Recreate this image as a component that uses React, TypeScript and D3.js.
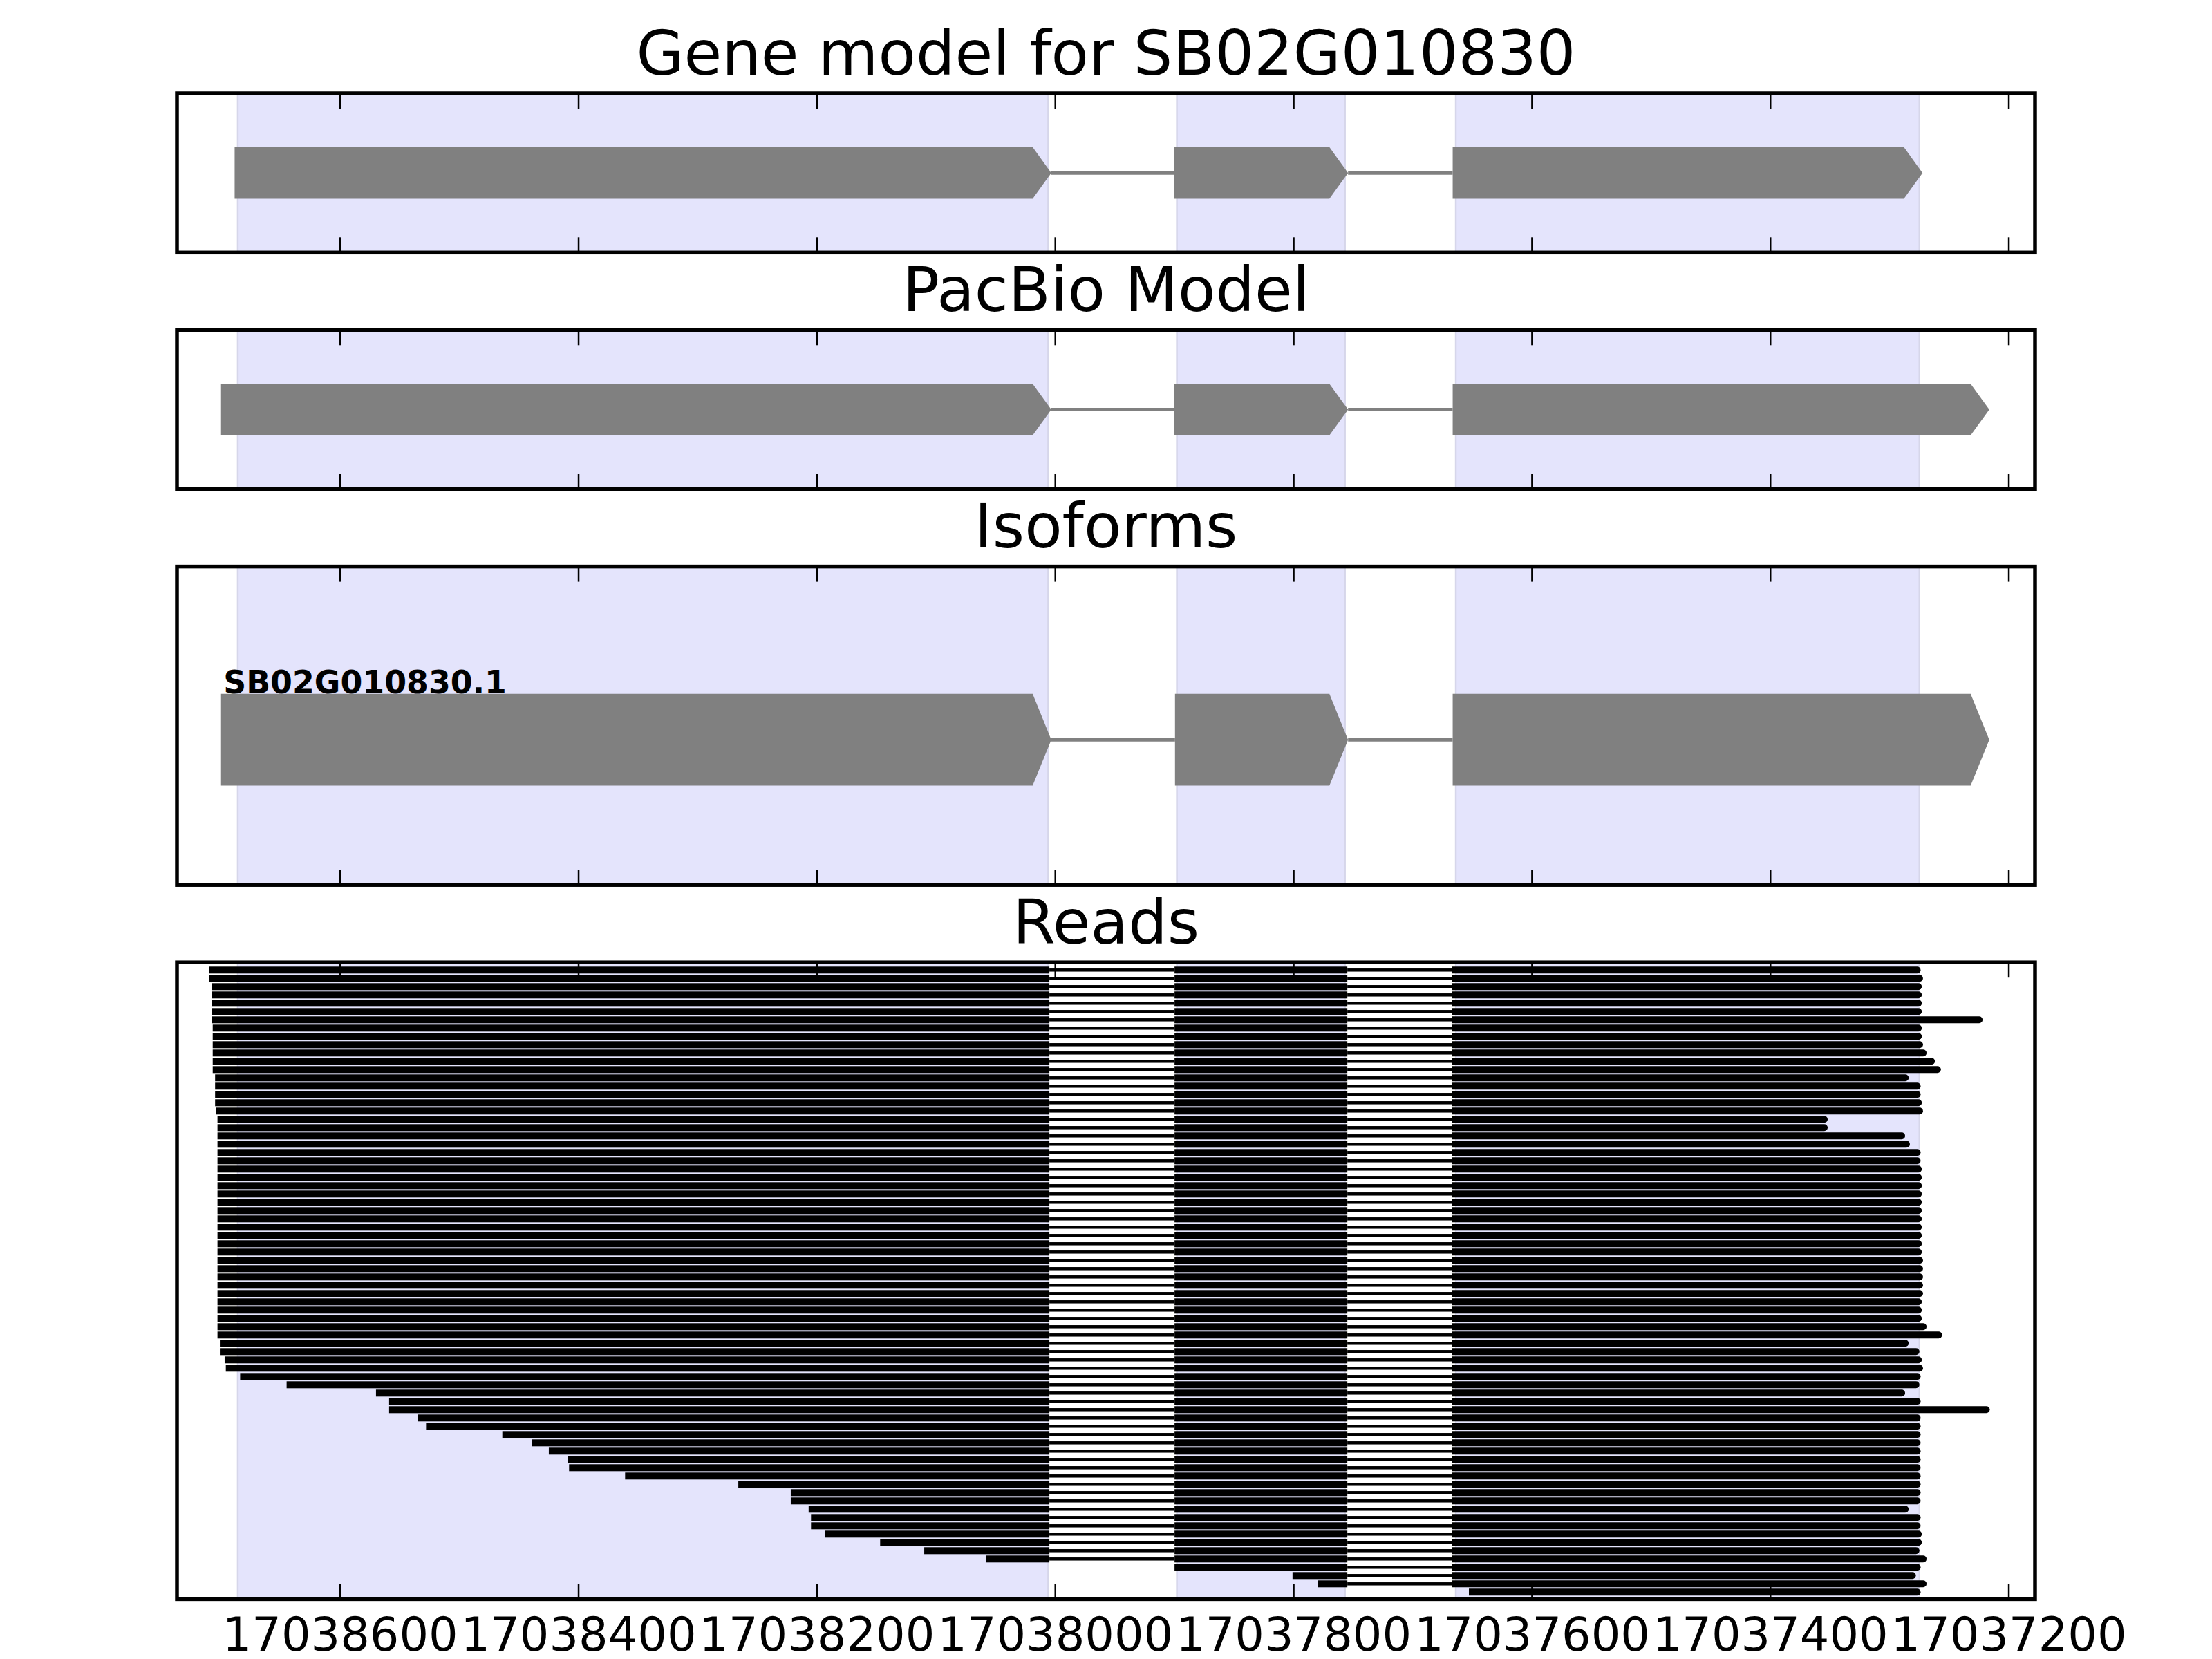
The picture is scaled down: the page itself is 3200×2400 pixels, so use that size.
import React from 'react';
import * as d3 from 'd3';

// ---------------- data ----------------
const xTicks = [17038600, 17038400, 17038200, 17038000, 17037800, 17037600, 17037400, 17037200];
const xLimits = [17038737, 17037178];
const titles = ['Gene model for SB02G010830', 'PacBio Model', 'Isoforms', 'Reads'];
const isoformName = 'SB02G010830.1';

// exons as [left (higher coordinate), right (lower coordinate)]
const geneExons: [number, number][] = [
  [17038686, 17038006],
  [17037898, 17037757],
  [17037664, 17037275],
];
const pacbioExons: [number, number][] = [
  [17038698, 17038006],
  [17037898, 17037757],
  [17037664, 17037219],
];
const isoformExons: [number, number][] = [
  [17038698, 17038006],
  [17037897, 17037757],
  [17037664, 17037219],
];

// read splice junctions: exon1 end, exon2 start, exon2 end, exon3 start
const readJunctions = [17038005, 17037900, 17037755, 17037667];

const readStarts = [
  17038710, 17038710, 17038708, 17038708, 17038708, 17038708, 17038708, 17038707,
  17038707, 17038707, 17038707, 17038707, 17038707, 17038705, 17038705, 17038705,
  17038705, 17038704, 17038703, 17038703, 17038703, 17038703, 17038703, 17038703,
  17038703, 17038703, 17038703, 17038703, 17038703, 17038703, 17038703, 17038703,
  17038703, 17038703, 17038703, 17038703, 17038703, 17038703, 17038703, 17038703,
  17038703, 17038703, 17038703, 17038703, 17038703, 17038701, 17038701, 17038697,
  17038696, 17038684, 17038645, 17038570, 17038559, 17038559, 17038535, 17038528,
  17038464, 17038439, 17038425, 17038409, 17038408, 17038361, 17038266, 17038222,
  17038222, 17038207, 17038205, 17038205, 17038193, 17038147, 17038110, 17038058,
  17037900, 17037801, 17037780, 17037653,
];
const readEnds = [
  17037274, 17037272, 17037273, 17037273, 17037273, 17037273, 17037222, 17037273,
  17037273, 17037272, 17037269, 17037262, 17037257, 17037284, 17037274, 17037274,
  17037273, 17037272, 17037352, 17037352, 17037287, 17037283, 17037274, 17037274,
  17037273, 17037273, 17037273, 17037273, 17037273, 17037273, 17037273, 17037273,
  17037273, 17037273, 17037273, 17037272, 17037272, 17037272, 17037272, 17037272,
  17037273, 17037273, 17037273, 17037269, 17037256, 17037284, 17037275, 17037273,
  17037272, 17037274, 17037275, 17037287, 17037274, 17037216, 17037274, 17037274,
  17037274, 17037274, 17037274, 17037274, 17037274, 17037274, 17037274, 17037274,
  17037274, 17037284, 17037274, 17037274, 17037273, 17037273, 17037275, 17037269,
  17037274, 17037278, 17037269, 17037274,
];

// ---------------- layout ----------------
const W = 3200;
const H = 2400;
const LEFT = 256;
const RIGHT = 2944;
const panelTops = [135, 477.3, 819.6, 1392.2];
const panelHeights = [230.3, 230.3, 460.6, 921.2];
const FONT = '"DejaVu Sans", Verdana, sans-serif';
const GRAY = '#808080';
const SHADE = '#e4e4fc';
const SHADE_EDGE = '#d6d6ea';

const x = d3.scaleLinear().domain(xLimits).range([LEFT, RIGHT]);

function arrowPoints(left: number, right: number, yc: number, hh: number, pad: number, head: number) {
  const x0 = x(left) - pad;
  const x1 = x(right) + pad;
  return [
    [x0, yc - hh],
    [x1 - head, yc - hh],
    [x1, yc],
    [x1 - head, yc + hh],
    [x0, yc + hh],
  ]
    .map((p) => p.join(','))
    .join(' ');
}

function Model({ exons, yc, hh }: { exons: [number, number][]; yc: number; hh: number }) {
  const pad = 4.5;
  const head = 27;
  return (
    <g>
      {exons.slice(0, -1).map((e, i) => (
        <line
          key={'in' + i}
          x1={x(e[1]) + pad}
          x2={x(exons[i + 1][0]) - pad}
          y1={yc}
          y2={yc}
          stroke={GRAY}
          strokeWidth={5}
        />
      ))}
      {exons.map((e, i) => (
        <polygon key={'ex' + i} points={arrowPoints(e[0], e[1], yc, hh, pad, head)} fill={GRAY} />
      ))}
    </g>
  );
}

function Frame({ top, h, labels }: { top: number; h: number; labels: boolean }) {
  const tickLen = 22;
  return (
    <g>
      {xTicks.map((t) => (
        <g key={t}>
          <line x1={x(t)} x2={x(t)} y1={top} y2={top + tickLen} stroke="#000" strokeWidth={2.5} />
          <line x1={x(t)} x2={x(t)} y1={top + h} y2={top + h - tickLen} stroke="#000" strokeWidth={2.5} />
          {labels && (
            <text x={x(t)} y={top + h + 75} fontSize={67} fontFamily={FONT} textAnchor="middle" fill="#000">
              {t}
            </text>
          )}
        </g>
      ))}
      <rect x={LEFT} y={top} width={RIGHT - LEFT} height={h} fill="none" stroke="#000" strokeWidth={5.5} />
    </g>
  );
}

function Shading({ top, h }: { top: number; h: number }) {
  return (
    <g>
      {geneExons.map((e, i) => (
        <rect
          key={i}
          x={x(e[0])}
          y={top}
          width={x(e[1]) - x(e[0])}
          height={h}
          fill={SHADE}
          stroke={SHADE_EDGE}
          strokeWidth={2.5}
        />
      ))}
    </g>
  );
}

function Reads({ top, h }: { top: number; h: number }) {
  const n = readStarts.length;
  const y = d3.scaleLinear().domain([0, n - 1]).range([top + 11.1, top + h - 10.1]);
  const barH = 10;
  const intronH = 4.5;
  const r = barH / 2;
  const [e1End, e2Start, e2End, e3Start] = readJunctions;
  return (
    <g>
      {readStarts.map((s, i) => {
        const e = readEnds[i];
        const yc = y(i);
        const segs: [number, number][] = [];
        if (s > e1End) segs.push([s, e1End]);
        if (s > e2End) segs.push([Math.min(s, e2Start), e2End]);
        segs.push([Math.min(s, e3Start), e]);
        const els: React.ReactNode[] = [];
        for (let k = 0; k < segs.length - 1; k++) {
          els.push(
            <rect
              key={'i' + k}
              x={x(segs[k][1])}
              y={yc - intronH / 2}
              width={x(segs[k + 1][0]) - x(segs[k][1])}
              height={intronH}
              fill="#000"
            />
          );
        }
        segs.forEach((sg, k) => {
          const a = x(sg[0]);
          const b = x(sg[1]);
          const t = yc - barH / 2;
          if (k === segs.length - 1) {
            els.push(
              <path
                key={'e' + k}
                d={`M${a},${t} L${b - r},${t} A${r},${r} 0 0 1 ${b - r},${t + barH} L${a},${t + barH} Z`}
                fill="#000"
              />
            );
          } else {
            els.push(<rect key={'e' + k} x={a} y={t} width={b - a} height={barH} fill="#000" />);
          }
        });
        return <g key={i}>{els}</g>;
      })}
    </g>
  );
}

export default function App() {
  const geneY = panelTops[0] + panelHeights[0] * 0.5;
  const pacY = panelTops[1] + panelHeights[1] * 0.5;
  const hhSmall = panelHeights[0] * 0.162;
  const isoY = panelTops[2] + panelHeights[2] * 0.544;
  const isoHH = panelHeights[2] * 0.144;
  return (
    <div style={{ position: 'absolute', left: 0, top: 0 }}>
      <svg width={W} height={H} style={{ display: 'block', background: '#fff' }}>
        <rect x={0} y={0} width={W} height={H} fill="#fff" />
        {titles.map((t, i) => (
          <text
            key={t}
            x={(LEFT + RIGHT) / 2}
            y={panelTops[i] - 27.5}
            fontSize={89}
            fontFamily={FONT}
            textAnchor="middle"
            fill="#000"
          >
            {t}
          </text>
        ))}
        {panelTops.map((t, i) => (
          <Shading key={'s' + i} top={t} h={panelHeights[i]} />
        ))}
        <Model exons={geneExons} yc={geneY} hh={hhSmall} />
        <Model exons={pacbioExons} yc={pacY} hh={hhSmall} />
        <Model exons={isoformExons} yc={isoY} hh={isoHH} />
        <text
          x={x(isoformExons[0][0])}
          y={isoY - isoHH - 0.5}
          fontSize={45.8}
          fontWeight="bold"
          fontFamily={FONT}
          fill="#000"
        >
          {isoformName}
        </text>
        <Reads top={panelTops[3]} h={panelHeights[3]} />
        {panelTops.map((t, i) => (
          <Frame key={'f' + i} top={t} h={panelHeights[i]} labels={i === 3} />
        ))}
      </svg>
    </div>
  );
}
